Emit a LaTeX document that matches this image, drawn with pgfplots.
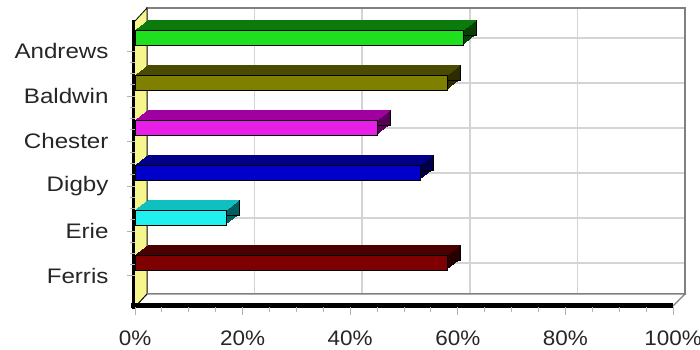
\documentclass[border=0pt]{standalone}
\usepackage{pgfplots}
\pgfplotsset{compat=1.18}
\usepackage{pgfplotstable}
\usepackage{fontspec}
\setmainfont{Liberation Sans}
\newfontfamily\lab[FakeStretch=1.15]{Liberation Sans}
\newfontfamily\labx[FakeStretch=1.07]{Liberation Sans}

\definecolor{gA}{HTML}{1EE01E}\definecolor{gB}{HTML}{0C7A0C}\definecolor{gC}{HTML}{054005}
\definecolor{oA}{HTML}{808000}\definecolor{oB}{HTML}{4A4A00}\definecolor{oC}{HTML}{2C2C00}
\definecolor{mA}{HTML}{E61EE6}\definecolor{mB}{HTML}{A000A0}\definecolor{mC}{HTML}{580058}
\definecolor{bA}{HTML}{0000C8}\definecolor{bB}{HTML}{000088}\definecolor{bC}{HTML}{000048}
\definecolor{cA}{HTML}{20F0F0}\definecolor{cB}{HTML}{10C0C0}\definecolor{cC}{HTML}{006060}
\definecolor{rA}{HTML}{7E0000}\definecolor{rB}{HTML}{4A0000}\definecolor{rC}{HTML}{280000}
\definecolor{wall}{HTML}{F6F68C}
\definecolor{gridc}{HTML}{D4D4D4}
\definecolor{edge}{HTML}{808080}

\pgfplotstableread{
pos val
5 61
4 58
3 45
2 53
1 17
0 58
}\bars

\newcommand\bardd[4]{%
 \pgfplotsinvokeforeach{0,...,12}{%
  \addplot[xbar, bar width=15pt, bar shift=13.5pt, fill=#4, draw=none,
    transform canvas={xshift=##1pt, yshift=##1*0.769pt},
    restrict y to domain=#1:#1] table[x=val,y=pos]{\bars};}
 \addplot[xbar, bar width=15pt, bar shift=13.5pt, fill=#4, draw=black, line width=0.6pt,
    transform canvas={xshift=13pt, yshift=10pt},
    restrict y to domain=#1:#1] table[x=val,y=pos]{\bars};
 \pgfplotsinvokeforeach{0,...,13}{%
  \addplot[xbar, bar width=1.6pt, bar shift=20.4pt, fill=#3, draw=none,
    transform canvas={xshift=##1pt, yshift=##1*0.769pt},
    restrict y to domain=#1:#1] table[x=val,y=pos]{\bars};}
 \addplot[xbar, bar width=15pt, bar shift=13.5pt, fill=#2, draw=black, line width=0.6pt,
    restrict y to domain=#1:#1] table[x=val,y=pos]{\bars};
}

\begin{document}
\begin{tikzpicture}[x=1pt,y=1pt]
\useasboundingbox (0,0) rectangle (700,349);
% back wall with grid
\begin{axis}[at={(147pt,55pt)}, anchor=south west, scale only axis,
  width=538pt, height=286pt, xmin=0, xmax=100, ymin=-0.69, ymax=5.67,
  xtick={0,20,...,100}, ytick={0,...,5}, xticklabels={}, yticklabels={},
  tick style={draw=none}, grid=major, grid style={line width=1.6pt, gridc},
  axis line style={edge, line width=1.8pt},
  axis background/.style={fill=white}]
\end{axis}
% left wall
\fill[wall] (135,42)--(135,328)--(147,341)--(147,55)--cycle;
\draw[black, line width=0.8pt] (135,328)--(147,341)--(147,55);
\draw[black, line width=3pt] (133,40)--(133,329);
% floor
\fill[white] (135,42)--(673,42)--(685,55)--(147,55)--cycle;
\draw[edge, line width=1.2pt] (147,55)--(685,55)--(673,43);
\draw[black, line width=1pt] (135,42)--(147,55);
\draw[black, line width=5pt] (131,43.5)--(673,43.5);
% front plane with bars and ticks
\begin{axis}[at={(135pt,42pt)}, anchor=south west, scale only axis,
  width=538pt, height=286pt, xmin=0, xmax=100, ymin=-0.69, ymax=5.67,
  clip=false, axis line style={draw=none},
  xtick={0,20,...,100}, xticklabels={0\%,20\%,40\%,60\%,80\%,100\%},
  ytick={0,...,5}, yticklabels={Ferris,Erie,Digby,Chester,Baldwin,Andrews},
  minor x tick num=3, minor y tick num=3, tick align=outside,
  xtick pos=left, ytick pos=left, major tick length=8pt, minor tick length=5pt,
  tick style={gray!60, line width=1pt},
  yticklabel style={font=\lab\fontsize{21}{24}\selectfont, text=black!85, xshift=-15pt},
  xticklabel style={font=\labx\fontsize{21}{24}\selectfont, text=black!85, yshift=-12pt},
  /pgf/number format/assume math mode=true]
\bardd{5}{gA}{gB}{gC}
\bardd{4}{oA}{oB}{oC}
\bardd{3}{mA}{mB}{mC}
\bardd{2}{bA}{bB}{bC}
\bardd{1}{cA}{cB}{cC}
\bardd{0}{rA}{rB}{rC}
\end{axis}
\end{tikzpicture}
\end{document}
